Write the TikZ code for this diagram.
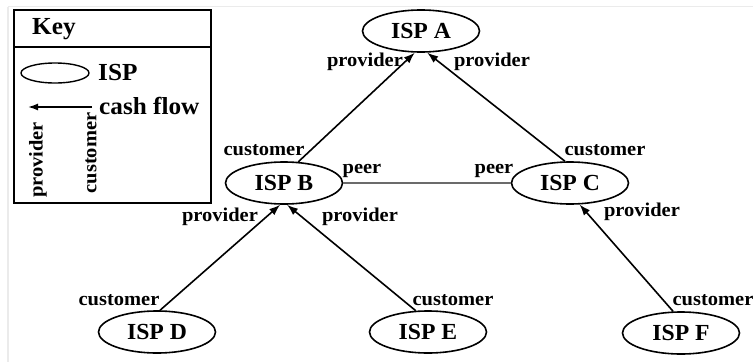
\documentclass[tikz,border=0pt]{standalone}
\usepackage{fontspec}
\setmainfont{Liberation Serif}
\newfontfamily\labfont[FakeStretch=1.05]{Liberation Serif}
\newfontfamily\ispfont[FakeStretch=1.03]{Liberation Serif}
\usetikzlibrary{shapes.geometric,arrows.meta}
\begin{document}
\begin{tikzpicture}[x=1pt,y=-1pt,
  isp/.style={ellipse,draw,line width=1.6pt,minimum width=117pt,minimum height=42pt,inner sep=0pt,
    font=\ispfont\bfseries\fontsize{23}{23}\selectfont},
  lab/.style={inner sep=0pt,font=\labfont\bfseries\fontsize{19.5}{19.5}\selectfont},
  keytext/.style={inner sep=0pt,anchor=west,font=\ispfont\bfseries\fontsize{24.5}{24.5}\selectfont},
  flow/.style={line width=1.6pt,-{Latex[length=11pt,width=8pt]}},
  peerline/.style={line width=2.6pt,black!58}]
\useasboundingbox (0,0) rectangle (753,362);
\fill[white] (0,0) rectangle (753,362);
\draw[black!8,line width=1.2pt] (8,6.5) -- (753,6.5);
\draw[black!8,line width=1.2pt] (8,6.5) -- (8,362);
% key
\draw[line width=2.6pt] (14,10) rectangle (211,203);
\draw[line width=2.6pt] (14,47) -- (211,47);
\node[keytext] (keyt) at (32,29) {Key};
\node[ellipse,draw,line width=1.4pt,minimum width=68pt,minimum height=20pt,inner sep=0pt] (keye) at (55,73) {};
\node[keytext] (keyisp) at (98,73) {ISP};
\coordinate (kfrom) at (92,107);
\coordinate (kto) at (28,107);
\draw[line width=1.6pt,-{Latex[length=10pt,width=7pt]}] (kfrom) -- (kto);
\node[keytext] (keycash) at (99,106) {cash flow};
\node[lab,rotate=90] (keyprov) at (38,160) {provider};
\node[lab,rotate=90] (keycust) at (91,153) {customer};
% nodes
\node[isp] (A) at (421,31) {ISP A};
\node[isp] (B) at (284,183) {ISP B};
\node[isp] (C) at (570,183) {ISP C};
\node[isp] (D) at (157,332) {ISP D};
\node[isp] (E) at (428,332) {ISP E};
\node[isp] (F) at (681,333) {ISP F};
% edges
\draw[flow] (B.56) -- (A.254);
\draw[flow] (C.103) -- (A.286);
\draw[peerline] (B.east) -- (C.west);
\draw[flow] (D.82) -- (B.260);
\draw[flow] (E.120) -- (B.278);
\draw[flow] (F.110) -- (C.294);
% labels
\node[lab] (l1) at (365,62) {provider};
\node[lab] (l2) at (492,62) {provider};
\node[lab] (l3) at (264,150) {customer};
\node[lab] (l4) at (605,150) {customer};
\node[lab] (l5) at (362,171) {peer};
\node[lab] (l6) at (494,171) {peer};
\node[lab] (l7) at (220,217) {provider};
\node[lab] (l8) at (360,217) {provider};
\node[lab] (l9) at (642,212) {provider};
\node[lab] (l10) at (119,300) {customer};
\node[lab] (l11) at (453,300) {customer};
\node[lab] (l12) at (713,300) {customer};
\end{tikzpicture}
\end{document}
